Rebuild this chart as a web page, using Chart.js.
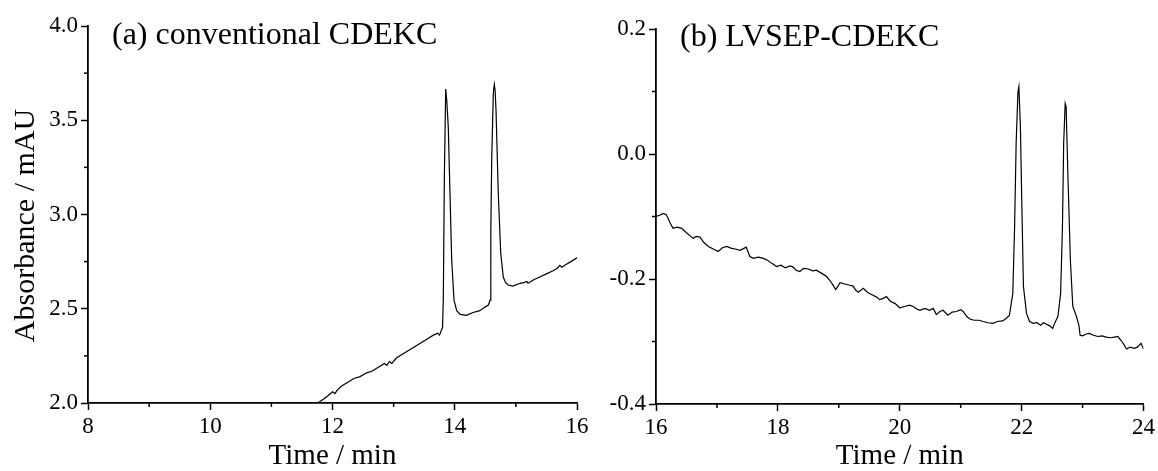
<!DOCTYPE html>
<html>
<head>
<meta charset="utf-8">
<script src="https://cdn.jsdelivr.net/npm/chart.js@4.4.1/dist/chart.umd.min.js"></script>
<style>
  html, body { margin: 0; padding: 0; background: #fff; }
  #wrap { position: relative; width: 1158px; height: 471px; }
  .panel { position: absolute; top: 0; height: 471px; }
  #panelA { left: 0; width: 595px; }
  #panelB { left: 600px; width: 558px; }
</style>
</head>
<body>
<div id="wrap">
  <div class="panel" id="panelA"><canvas id="chartA"></canvas></div>
  <div class="panel" id="panelB"><canvas id="chartB"></canvas></div>
</div>
<script>
// (a) conventional CDEKC
const timeA = [11.70, 11.76, 11.85, 11.93, 12.00, 12.04, 12.08, 12.15, 12.25, 12.35,
  12.45, 12.56, 12.65, 12.75, 12.85, 12.89, 12.93, 12.97, 13.05, 13.15,
  13.25, 13.35, 13.45, 13.55, 13.65, 13.72, 13.75, 13.78, 13.80, 13.813,
  13.83, 13.852, 13.87, 13.894, 13.922, 13.95, 13.988, 14.032, 14.09, 14.19,
  14.30, 14.41, 14.50, 14.55, 14.577, 14.59, 14.605, 14.631, 14.647, 14.66,
  14.675, 14.712, 14.752, 14.794, 14.83, 14.876, 14.95, 15.07, 15.14, 15.18,
  15.20, 15.30, 15.40, 15.50, 15.60, 15.68, 15.72, 15.75, 15.82, 15.90, 16.00];
const absA = [1.98, 2.00, 2.02, 2.04, 2.06, 2.05, 2.07, 2.09, 2.11, 2.13,
  2.14, 2.16, 2.17, 2.19, 2.21, 2.20, 2.22, 2.21, 2.24, 2.26,
  2.28, 2.30, 2.32, 2.34, 2.36, 2.37, 2.36, 2.385, 2.40, 2.55,
  3.20, 3.666, 3.60, 3.466, 3.114, 2.759, 2.546, 2.49, 2.47, 2.465,
  2.48, 2.49, 2.51, 2.52, 2.546, 2.90, 3.30, 3.645, 3.69, 3.66,
  3.554, 3.114, 2.796, 2.668, 2.64, 2.626, 2.62, 2.635, 2.64, 2.645,
  2.635, 2.655, 2.67, 2.685, 2.70, 2.715, 2.73, 2.72, 2.735, 2.75, 2.77];
const xTicksA = [8, 10, 12, 14, 16];
const yTicksA = [2.0, 2.5, 3.0, 3.5, 4.0];

// (b) LVSEP-CDEKC
const timeB = [16.00, 16.06, 16.12, 16.17, 16.23, 16.28, 16.35, 16.42, 16.50, 16.56,
  16.61, 16.66, 16.72, 16.79, 16.86, 16.94, 17.02, 17.09, 17.16, 17.24,
  17.30, 17.38, 17.48, 17.54, 17.60, 17.68, 17.76, 17.83, 17.90, 17.98,
  18.05, 18.12, 18.20, 18.25, 18.30, 18.36, 18.42, 18.50, 18.57, 18.63,
  18.72, 18.80, 18.85, 18.90, 18.95, 19.02, 19.10, 19.18, 19.23, 19.28,
  19.32, 19.40, 19.48, 19.56, 19.62, 19.67, 19.73, 19.78, 19.85, 19.92,
  20.00, 20.08, 20.16, 20.22, 20.28, 20.33, 20.41, 20.49, 20.55, 20.60,
  20.66, 20.71, 20.79, 20.86, 20.93, 21.00, 21.04, 21.10, 21.15, 21.22,
  21.30, 21.37, 21.45, 21.53, 21.60, 21.69, 21.76, 21.80, 21.855, 21.885,
  21.91, 21.94, 21.955, 21.98, 22.005, 22.03, 22.08, 22.13, 22.19, 22.25,
  22.31, 22.36, 22.40, 22.46, 22.51, 22.54, 22.595, 22.64, 22.67, 22.69,
  22.715, 22.73, 22.76, 22.80, 22.84, 22.90, 22.94, 22.96, 23.00, 23.06,
  23.11, 23.18, 23.25, 23.32, 23.39, 23.46, 23.52, 23.58, 23.63, 23.68,
  23.72, 23.78, 23.85, 23.90, 23.96, 24.00];
const absB = [-0.100, -0.098, -0.095, -0.097, -0.110, -0.119, -0.117, -0.119, -0.126, -0.131,
  -0.135, -0.132, -0.133, -0.142, -0.148, -0.152, -0.156, -0.150, -0.148, -0.151,
  -0.152, -0.154, -0.149, -0.164, -0.167, -0.165, -0.167, -0.170, -0.175, -0.180,
  -0.178, -0.182, -0.179, -0.181, -0.186, -0.188, -0.183, -0.184, -0.187, -0.186,
  -0.191, -0.196, -0.202, -0.209, -0.217, -0.206, -0.208, -0.210, -0.211, -0.218,
  -0.221, -0.215, -0.222, -0.226, -0.229, -0.233, -0.231, -0.228, -0.236, -0.239,
  -0.246, -0.244, -0.242, -0.244, -0.248, -0.250, -0.247, -0.250, -0.247, -0.257,
  -0.252, -0.250, -0.258, -0.253, -0.252, -0.249, -0.252, -0.260, -0.264, -0.266,
  -0.266, -0.268, -0.270, -0.271, -0.268, -0.267, -0.262, -0.258, -0.223, -0.116,
  0.017, 0.100, 0.108, 0.044, -0.090, -0.212, -0.255, -0.268, -0.271, -0.270,
  -0.274, -0.270, -0.272, -0.275, -0.279, -0.271, -0.260, -0.223, -0.116, 0.017,
  0.081, 0.076, -0.036, -0.170, -0.244, -0.260, -0.274, -0.290, -0.291, -0.288,
  -0.287, -0.290, -0.292, -0.291, -0.293, -0.294, -0.293, -0.292, -0.298, -0.305,
  -0.312, -0.309, -0.311, -0.309, -0.303, -0.312];
const xTicksB = [16, 18, 20, 22, 24];
const yTicksB = [-0.4, -0.2, 0.0, 0.2];

Chart.defaults.font.family = '"Liberation Serif", "Times New Roman", serif';
Chart.defaults.color = '#000';

// short ticks half way between the labelled ones
const minorTicks = {
  id: 'minorTicks',
  afterDraw(chart) {
    const ctx = chart.ctx;
    ctx.save();
    ctx.strokeStyle = '#000';
    ctx.lineWidth = 1.5;
    ['x', 'y'].forEach(id => {
      const s = chart.scales[id];
      const t = s.ticks;
      for (let i = 0; i < t.length - 1; i++) {
        const p = s.getPixelForValue((t[i].value + t[i + 1].value) / 2);
        ctx.beginPath();
        if (id === 'x') { ctx.moveTo(p, s.top); ctx.lineTo(p, s.top + 4); }
        else { ctx.moveTo(s.right, p); ctx.lineTo(s.right - 4, p); }
        ctx.stroke();
      }
    });
    ctx.restore();
  }
};

// panel caption inside the plot, and the y title a bit below centre like the original
const panelLabel = {
  id: 'panelLabel',
  afterDraw(chart, args, o) {
    const ctx = chart.ctx;
    const area = chart.chartArea;
    ctx.save();
    ctx.fillStyle = '#000';
    ctx.font = '32px "Liberation Serif"';
    ctx.fillText(o.text, area.left + 24, o.y);
    if (o.yTitle) {
      ctx.translate(26.5, (area.top + area.bottom) / 2 + 11);
      ctx.rotate(-Math.PI / 2);
      ctx.font = '30px "Liberation Serif"';
      ctx.textAlign = 'center';
      ctx.textBaseline = 'middle';
      ctx.fillText(o.yTitle, 0, 0);
    }
    ctx.restore();
  }
};

function makePanel(id, times, values, xTicks, yTicks, label, opt) {
  const axis = {
    grid: { drawOnChartArea: false, drawTicks: true, tickLength: 7, tickWidth: 1.5, tickColor: '#000' },
    border: { display: true, color: '#000', width: 1.8 },
  };
  return new Chart(document.getElementById(id), {
    type: 'line',
    data: {
      datasets: [{
        data: times.map((t, i) => ({ x: t, y: values[i] })),
        borderColor: '#000',
        borderWidth: 1.2,
        pointRadius: 0,
        tension: 0,
        fill: false,
      }],
    },
    options: {
      responsive: true,
      maintainAspectRatio: false,
      animation: false,
      layout: { padding: { top: opt.top, right: opt.right, left: 0, bottom: 0 } },
      plugins: {
        legend: { display: false },
        tooltip: { enabled: false },
        panelLabel: { text: label, y: opt.labelY, yTitle: opt.yTitle },
      },
      scales: {
        x: {
          ...axis,
          type: 'linear',
          min: xTicks[0],
          max: xTicks[xTicks.length - 1],
          afterBuildTicks: s => { s.ticks = xTicks.map(v => ({ value: v })); },
          afterFit: s => { s.height = opt.xHeight; },
          ticks: { font: { size: 23 }, padding: 3, maxRotation: 0, autoSkip: false },
          title: { display: true, text: 'Time / min', font: { size: 29, lineHeight: 1 }, padding: 0 },
        },
        y: {
          ...axis,
          min: yTicks[0],
          max: yTicks[yTicks.length - 1],
          afterBuildTicks: s => { s.ticks = yTicks.map(v => ({ value: v })); },
          afterFit: s => { s.width = opt.yWidth; },
          ticks: { font: { size: 23 }, padding: 3, callback: v => v.toFixed(1) },
        },
      },
    },
    plugins: [minorTicks, panelLabel],
  });
}

makePanel('chartA', timeA, absA, xTicksA, yTicksA, '(a) conventional CDEKC',
  { top: 26, right: 18, xHeight: 68, yWidth: 88, labelY: 44, yTitle: 'Absorbance / mAU' });
makePanel('chartB', timeB, absB, xTicksB, yTicksB, '(b) LVSEP-CDEKC',
  { top: 29, right: 14, xHeight: 67, yWidth: 56, labelY: 46, yTitle: '' });
</script>
</body>
</html>
